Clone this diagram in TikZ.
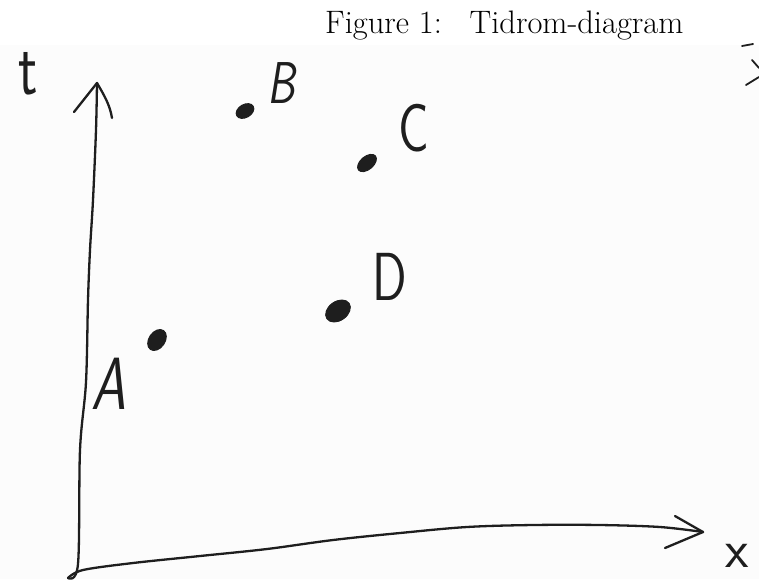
\documentclass[tikz,border=0pt]{standalone}
\usepackage{fontspec}
\usetikzlibrary{shapes.geometric}
\definecolor{ink}{HTML}{1E1E1E}
\definecolor{paper}{HTML}{FCFCFC}
\begin{document}
\begin{tikzpicture}[x=1pt,y=-1pt,
  pen/.style={draw=ink,line width=2.3pt,line cap=round,line join=round},
  dotmark/.style={ellipse,fill=ink,draw=ink,line width=1pt,inner sep=0pt},
  hand/.style={text=ink,inner sep=0pt,anchor=center,font=\sffamily\slshape}]
\useasboundingbox (0,0) rectangle (759,579);
\fill[paper] (0,45) rectangle (759,579);
% caption
\node[anchor=base west,inner sep=0pt,font=\fontsize{32.5}{32.5}\selectfont] (cap) at (325,33) {Figure 1:\hspace{0.85em}Tidrom-diagram};
% axes
\coordinate (O) at (68,578);
\coordinate (ttip) at (97,83);
\coordinate (xtip) at (703,532);
\draw[pen] plot[smooth,tension=0.55] coordinates {(O) (78,564) (80,450) (86,382) (88,300) (90,250) (93,200) (96,130) (ttip)};
\draw[pen] (74,112) -- (ttip) .. controls (104,95) and (110,105) .. (112,118);
\draw[pen] plot[smooth,tension=0.55] coordinates {(O) (83,570) (133,563) (200,556) (267,549) (333,540) (400,533) (467,527) (533,525) (600,525) (660,527) (xtip)};
\draw[pen] (675,516) -- (xtip) -- (665,548);
% fragment at top right edge
\draw[pen,line width=1.8pt] (742,46) -- (753,44);
\draw[pen,line width=1.8pt] (752,60) -- (759,68);
\draw[pen,line width=1.8pt] (759,77) -- (746,85);
% events
\node[dotmark,rotate=30,minimum width=19pt,minimum height=13pt] (Bdot) at (245,111) {};
\node[dotmark,rotate=40,minimum width=22pt,minimum height=13pt] (Cdot) at (367,163) {};
\node[dotmark,rotate=35,minimum width=27pt,minimum height=19pt] (Ddot) at (338,311) {};
\node[dotmark,rotate=55,minimum width=23pt,minimum height=16pt] (Adot) at (157,340) {};
% labels
\node[hand,font=\sffamily\fontsize{76}{76}\selectfont] (tl) at (28,74) {\scalebox{0.75}[1]{t}};
\node[hand,font=\sffamily\fontsize{54}{54}\selectfont] (xl) at (737,556) {x};
\node[hand,font=\sffamily\slshape\fontsize{59}{59}\selectfont] (Bl) at (281,83) {\scalebox{0.75}[1]{B}};
\node[hand,font=\sffamily\fontsize{68}{68}\selectfont] (Cl) at (414,128) {\scalebox{0.75}[1]{C}};
\node[hand,font=\sffamily\fontsize{68}{68}\selectfont] (Dl) at (390,277) {\scalebox{0.75}[1]{D}};
\node[hand,font=\sffamily\slshape\fontsize{74}{74}\selectfont] (Al) at (109,384) {\scalebox{0.75}[1]{A}};
\end{tikzpicture}
\end{document}
